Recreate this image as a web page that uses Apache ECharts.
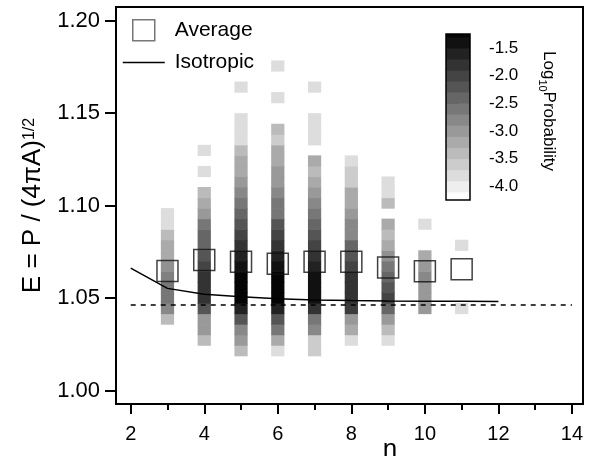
<!DOCTYPE html>
<html><head><meta charset="utf-8">
<script src="https://cdn.jsdelivr.net/npm/echarts@6/dist/echarts.min.js"></script>
<style>html,body{margin:0;padding:0;background:#fff}#c{width:589px;height:456px}</style>
</head><body><div id="c"></div>
<script>
// ---- data ----
const nValues = [3, 4, 5, 6, 7, 8, 9, 10, 11];
// histogram bins in E (lower edge of first bin, bin width)
const binStartE = 1.0189;
const binWidthE = 0.0057;
// log10 probability per E bin (from lowest bin upward), null = empty
const logProbN3  = [null, null, null, -3.4, -2.8, -2.6, -2.6, -2.7, -2.9, -3.2, -3.2, -3.4, -3.8, -3.8];
const logProbN4  = [null, -3.4, -3.0, -3.0, -2.2, -1.8, -1.8, -1.8, -2.0, -2.2, -2.4, -2.4, -2.6, -3.0, -3.2, -3.4, null, -3.8, null, -3.8];
const logProbN5  = [-3.4, -3.0, -2.8, -2.2, -1.6, -1.25, -1.25, -1.25, -1.4, -1.6, -1.8, -2.0, -2.2, -2.4, -2.6, -2.8, -3.0, -3.2, -3.2, -3.4, -3.8, -3.8, -3.8, null, null, -3.8];
const logProbN6  = [-3.8, -3.2, -2.6, -2.2, -1.6, -1.25, -1.25, -1.25, -1.4, -1.6, -1.8, -2.0, -2.2, -2.6, -2.6, -2.8, -3.0, -3.0, -3.2, -3.2, -3.6, -3.4, null, null, -3.8, null, null, -3.8];
const logProbN7  = [-3.6, -3.6, -2.8, -2.6, -1.8, -1.4, -1.4, -1.4, -1.6, -1.8, -2.0, -2.2, -2.4, -2.6, -2.8, -3.0, -3.2, -3.4, -3.2, null, -3.8, -3.8, -3.8, null, null, -3.8];
const logProbN8  = [null, -3.8, -3.2, -3.0, -1.9, -1.8, -1.8, -1.8, -2.0, -2.2, -2.4, -2.8, -2.8, -3.0, -3.2, -3.2, -3.6, -3.6, -3.8];
const logProbN9  = [null, -3.8, -3.4, -3.0, -2.4, -2.0, -2.2, -2.4, -2.6, -2.9, -3.2, -3.4, -3.2, null, -3.4, -3.8, -3.8];
const logProbN10 = [null, null, null, null, -3.0, -3.0, -3.0, -2.8, -3.0, -3.2, null, null, -3.8];
const logProbN11 = [null, null, null, null, -3.8, null, null, null, null, null, -3.8];
const averageE = [1.0647, 1.0706, 1.0697, 1.0686, 1.0697, 1.0697, 1.0666, 1.0646, 1.0657];
const isotropicN = [2, 3, 4, 5, 6, 7, 8, 9, 10, 11, 12];
const isotropicE = [1.0662, 1.0553, 1.0521, 1.0508, 1.0497, 1.0490, 1.0487, 1.0485, 1.0484, 1.0483, 1.0482];
const limitN = [2, 14];
const limitE = [1.0463, 1.0463];
const xTickValues = [2, 4, 6, 8, 10, 12, 14];
const xMinorTickValues = [3, 5, 7, 9, 11, 13];
const yTickValues = [1.00, 1.05, 1.10, 1.15, 1.20];
const colorbarTicks = [-4.0, -3.5, -3.0, -2.5, -2.0, -1.5];
const colorbarEdges = [-4.25, -4.1, -3.9, -3.7, -3.5, -3.3, -3.1, -2.9, -2.7, -2.5, -2.3, -2.1, -1.9, -1.7, -1.5, -1.3, -1.25];

// ---- build ----
const columns = [logProbN3, logProbN4, logProbN5, logProbN6, logProbN7, logProbN8, logProbN9, logProbN10, logProbN11];
const heatCells = [];
columns.forEach((col, ci) => {
  col.forEach((v, k) => {
    if (v !== null) heatCells.push([nValues[ci], binStartE + (k + 0.5) * binWidthE, v]);
  });
});
const colorbarBlocks = [];
for (let i = 0; i < colorbarEdges.length - 1; i++) {
  const lo = colorbarEdges[i], hi = colorbarEdges[i + 1];
  colorbarBlocks.push([0.5, (lo + hi) / 2, (lo + hi) / 2, lo, hi]);
}
const FONT = 'Liberation Sans';

function cellRender(params, api) {
  const n = api.value(0), e = api.value(1);
  const a = api.coord([n - 0.18, e + binWidthE / 2]);
  const b = api.coord([n + 0.18, e - binWidthE / 2]);
  return { type: 'rect', shape: { x: a[0], y: a[1], width: b[0] - a[0], height: b[1] - a[1] + 0.6 },
    style: { fill: api.visual('color') } };
}
function barRender(params, api) {
  const a = api.coord([0, api.value(4)]);
  const b = api.coord([1, api.value(3)]);
  return { type: 'rect', shape: { x: a[0], y: a[1], width: b[0] - a[0], height: b[1] - a[1] + 0.6 },
    style: { fill: api.visual('color') } };
}

const chart = echarts.init(document.getElementById('c'), null, { renderer: 'canvas' });
chart.setOption({
  animation: false,
  backgroundColor: '#fff',
  textStyle: { fontFamily: FONT, color: '#000' },
  grid: [
    { left: 116, top: 7, width: 467, height: 397, show: true, borderColor: '#000', borderWidth: 2, backgroundColor: 'transparent' },
    { left: 446, top: 34, width: 24, height: 166, show: true, borderColor: '#000', borderWidth: 1.5, backgroundColor: 'transparent', z: 10 }
  ],
  visualMap: {
    type: 'continuous', show: false, min: -4.2, max: -1.2, dimension: 2, seriesIndex: [0, 4],
    inRange: { color: ['#ffffff', '#000000'] }
  },
  legend: [
    { data: ['Average'], left: 132, top: 19, padding: 0, itemWidth: 22, itemHeight: 21, icon: 'rect',
      textStyle: { fontFamily: FONT, fontSize: 21, color: '#000', padding: [0, 0, 0, 15] },
      itemStyle: { color: 'rgba(255,255,255,0)', borderColor: '#555', borderWidth: 1.5 } },
    { data: ['Isotropic'], left: 122, top: 52, padding: 0, itemWidth: 42, itemHeight: 14,
      itemStyle: { opacity: 0 },
      lineStyle: { color: '#000', width: 1.5, opacity: 1 },
      textStyle: { fontFamily: FONT, fontSize: 21, color: '#000', padding: [0, 0, 0, 5] } }
  ],
  xAxis: [
    { gridIndex: 0, type: 'value', min: 1.6, max: 14.3, position: 'bottom',
      axisLine: { show: true, onZero: false, lineStyle: { color: '#000', width: 2 } },
      axisTick: { show: true, customValues: xTickValues, length: 10, lineStyle: { color: '#000', width: 2 } },
      axisLabel: { customValues: xTickValues, fontFamily: FONT, fontSize: 20, color: '#000', margin: 20 },
      splitLine: { show: false } },
    { gridIndex: 0, type: 'value', min: 1.6, max: 14.3, position: 'bottom',
      axisLine: { show: false, onZero: false },
      axisTick: { show: true, customValues: xMinorTickValues, length: 6, lineStyle: { color: '#000', width: 2 } },
      axisLabel: { show: false }, splitLine: { show: false } },
    { gridIndex: 1, type: 'value', min: 0, max: 1, show: false }
  ],
  yAxis: [
    { gridIndex: 0, type: 'value', min: 0.9928, max: 1.2074,
      name: '{m|E = P / (4πA)}{s|1/2}', nameLocation: 'middle', nameGap: 66,
      nameTextStyle: { fontFamily: FONT, color: '#000',
        rich: { m: { fontFamily: FONT, fontSize: 26, verticalAlign: 'bottom' },
                s: { fontFamily: FONT, fontSize: 16, verticalAlign: 'bottom', padding: [0, 0, 9, 0] } } },
      axisLine: { show: true, onZero: false, lineStyle: { color: '#000', width: 2 } },
      axisTick: { show: true, customValues: yTickValues, length: 11, lineStyle: { color: '#000', width: 2 } },
      axisLabel: { customValues: yTickValues, fontFamily: FONT, fontSize: 22, color: '#000', margin: 16,
        formatter: v => v.toFixed(2) },
      splitLine: { show: false } },
    { gridIndex: 1, type: 'value', min: -4.25, max: -1.25, position: 'right',
      axisLine: { show: false },
      axisTick: { show: true, customValues: colorbarTicks, length: 12, lineStyle: { color: '#000', width: 2 } },
      axisLabel: { customValues: colorbarTicks, fontFamily: FONT, fontSize: 17, color: '#000', margin: 19,
        formatter: v => v.toFixed(1) },
      splitLine: { show: false } }
  ],
  graphic: [
    { type: 'text', x: 390, y: 437,
      style: { text: 'n', fontFamily: FONT, fontSize: 26, fill: '#000', align: 'center', verticalAlign: 'top' } },
    { type: 'text', x: 549, y: 111, rotation: -Math.PI / 2,
      style: { text: 'Log{s|10}Probability', fontFamily: FONT, fontSize: 17, fill: '#000',
        align: 'center', verticalAlign: 'middle',
        rich: { s: { fontFamily: FONT, fontSize: 11, fill: '#000', verticalAlign: 'bottom', lineHeight: 24 } } } }
  ],
  series: [
    { type: 'custom', name: 'Probability', xAxisIndex: 0, yAxisIndex: 0, renderItem: cellRender,
      encode: { x: 0, y: 1 }, data: heatCells, z: 2 },
    { type: 'line', name: 'Isotropic', xAxisIndex: 0, yAxisIndex: 0, symbol: 'none', showSymbol: false, color: '#000',
      lineStyle: { color: '#000', width: 1.5 }, data: isotropicN.map((n, i) => [n, isotropicE[i]]), z: 3 },
    { type: 'line', name: 'Limit', xAxisIndex: 0, yAxisIndex: 0, symbol: 'none', color: '#000',
      lineStyle: { color: '#000', width: 1.5, type: [5, 5] }, data: limitN.map((n, i) => [n, limitE[i]]), z: 3 },
    { type: 'scatter', name: 'Average', xAxisIndex: 0, yAxisIndex: 0, symbol: 'rect', symbolSize: 21,
      itemStyle: { color: 'rgba(255,255,255,0)', borderColor: '#111', borderWidth: 1.5 },
      data: nValues.map((n, i) => [n, averageE[i]]), z: 4 },
    { type: 'custom', name: 'Colorbar', xAxisIndex: 2, yAxisIndex: 1, renderItem: barRender,
      encode: { x: 0, y: 1 }, data: colorbarBlocks, z: 2 }
  ]
});
</script></body></html>
